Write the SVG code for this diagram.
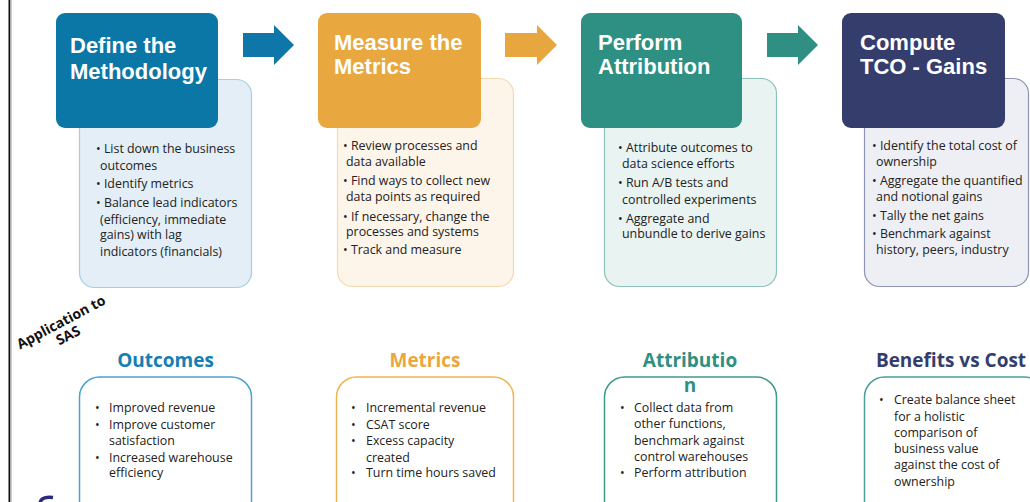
<svg xmlns="http://www.w3.org/2000/svg" width="1030" height="502" viewBox="0 0 1030 502">
<style>
.hd{font-family:"Liberation Sans",Arial,sans-serif;font-weight:bold;font-size:22px;fill:#ffffff}
.bl{font-family:"Open Sans","Noto Sans",sans-serif;font-size:12.4px;fill:#222222}
.bb{font-family:"Open Sans","Noto Sans",sans-serif;font-size:12.4px;fill:#222222}
.sh{font-family:"Open Sans","Noto Sans",sans-serif;font-weight:bold;font-size:19px;text-anchor:middle}
.app{font-family:"Open Sans","Noto Sans",sans-serif;font-weight:bold;font-size:14px;fill:#111111;text-anchor:middle}
</style>
<rect width="1030" height="502" fill="#ffffff"/>
<rect x="8.5" y="0" width="2" height="502" fill="#111111"/>
<rect x="10.5" y="0" width="1.5" height="502" fill="#cfcfcf"/>

<g id="connectors">
<polygon points="243,33 274,33 274,25 294,45 274,65 274,57 243,57" fill="#0e76a8"/>
<polygon points="505,33 537,33 537,25 557,45 537,65 537,57 505,57" fill="#e8a63e"/>
<polygon points="767,33 798,33 798,25 818,45 798,65 798,57 767,57" fill="#2e8f82"/>
</g>

<g id="step1">
<rect x="79.5" y="79.5" width="172" height="208" rx="15" fill="#e3eef6" stroke="#a6cfe4" stroke-width="1.2"/>
<rect x="56" y="13" width="162" height="115" rx="9" fill="#0b77a7"/>
<text class="hd"><tspan x="70" y="53">Define the</tspan><tspan x="70" y="79">Methodology</tspan></text>
<text class="bl"><tspan x="96" y="153">• List down the business</tspan><tspan x="100" y="170">outcomes</tspan><tspan x="96" y="188">• Identify metrics</tspan><tspan x="96" y="207">• Balance lead indicators</tspan><tspan x="100" y="224">(efficiency, immediate</tspan><tspan x="100" y="239">gains) with lag</tspan><tspan x="100" y="256">indicators (financials)</tspan></text>
</g>

<g id="step2">
<rect x="337.5" y="78.5" width="176" height="208" rx="15" fill="#fdf4ea" stroke="#f6d9b0" stroke-width="1.2"/>
<rect x="318" y="13" width="163" height="115" rx="9" fill="#e8a73f"/>
<text class="hd"><tspan x="334" y="50">Measure the</tspan><tspan x="334" y="74">Metrics</tspan></text>
<text class="bl"><tspan x="343" y="150">• Review processes and</tspan><tspan x="346" y="166">data available</tspan><tspan x="343" y="185">• Find ways to collect new</tspan><tspan x="346" y="201">data points as required</tspan><tspan x="343" y="221">• If necessary, change the</tspan><tspan x="346" y="236">processes and systems</tspan><tspan x="343" y="254">• Track and measure</tspan></text>
</g>

<g id="step3">
<rect x="604.5" y="78.5" width="172" height="208" rx="15" fill="#e9f3f1" stroke="#8cc2b9" stroke-width="1.2"/>
<rect x="581" y="13" width="161" height="115" rx="9" fill="#2e9083"/>
<text class="hd"><tspan x="598" y="50">Perform</tspan><tspan x="598" y="74">Attribution</tspan></text>
<text class="bl"><tspan x="618" y="152">• Attribute outcomes to</tspan><tspan x="622" y="168">data science efforts</tspan><tspan x="618" y="187">• Run A/B tests and</tspan><tspan x="622" y="204">controlled experiments</tspan><tspan x="618" y="223">• Aggregate and</tspan><tspan x="622" y="238">unbundle to derive gains</tspan></text>
</g>

<g id="step4">
<rect x="864.5" y="78.5" width="164" height="208" rx="15" fill="#eeeff4" stroke="#8f94b3" stroke-width="1.2"/>
<rect x="842" y="13" width="163" height="115" rx="9" fill="#353d6c"/>
<text class="hd"><tspan x="860" y="50">Compute</tspan><tspan x="860" y="74">TCO - Gains</tspan></text>
<text class="bl"><tspan x="872" y="150">• Identify the total cost of</tspan><tspan x="876" y="166">ownership</tspan><tspan x="872" y="185">• Aggregate the quantified</tspan><tspan x="876" y="201">and notional gains</tspan><tspan x="872" y="220">• Tally the net gains</tspan><tspan x="872" y="238">• Benchmark against</tspan><tspan x="876" y="254">history, peers, industry</tspan></text>
</g>

<g id="app-label" transform="translate(61,322) rotate(-28)">
<text class="app"><tspan x="0" y="5">Application to</tspan><tspan x="0" y="20">SAS</tspan></text>
</g>

<g id="outcomes">
<text class="sh" x="165.5" y="367" fill="#1480b2">Outcomes</text>
<rect x="79.5" y="377" width="172" height="150" rx="20" fill="#ffffff" stroke="#4aa3cf" stroke-width="1.5"/>
<text class="bb"><tspan x="95" y="412">•</tspan><tspan x="109" y="412">Improved revenue</tspan><tspan x="95" y="429">•</tspan><tspan x="109" y="429">Improve customer</tspan><tspan x="109" y="445">satisfaction</tspan><tspan x="95" y="462">•</tspan><tspan x="109" y="462">Increased warehouse</tspan><tspan x="109" y="477">efficiency</tspan></text>
</g>

<g id="metrics">
<text class="sh" x="425" y="367" fill="#eaa73e">Metrics</text>
<rect x="336.5" y="377" width="177" height="150" rx="20" fill="#ffffff" stroke="#f0b450" stroke-width="1.5"/>
<text class="bb"><tspan x="351" y="412">•</tspan><tspan x="366" y="412">Incremental revenue</tspan><tspan x="351" y="429">•</tspan><tspan x="366" y="429">CSAT score</tspan><tspan x="351" y="445">•</tspan><tspan x="366" y="445">Excess capacity</tspan><tspan x="366" y="462">created</tspan><tspan x="351" y="477">•</tspan><tspan x="366" y="477">Turn time hours saved</tspan></text>
</g>

<g id="attribution">
<rect x="604.5" y="377" width="172" height="150" rx="20" fill="#ffffff" stroke="#3f9a8e" stroke-width="1.5"/>
<text class="sh" fill="#2e9083"><tspan x="690" y="367">Attributio</tspan><tspan x="690" y="392">n</tspan></text>
<text class="bb"><tspan x="620" y="412">•</tspan><tspan x="634" y="412">Collect data from</tspan><tspan x="634" y="428">other functions,</tspan><tspan x="634" y="445">benchmark against</tspan><tspan x="634" y="461">control warehouses</tspan><tspan x="620" y="477">•</tspan><tspan x="634" y="477">Perform attribution</tspan></text>
</g>

<g id="benefits">
<text class="sh" x="951" y="367" fill="#353d6c">Benefits vs Cost</text>
<rect x="864.5" y="377" width="180" height="150" rx="20" fill="#ffffff" stroke="#4a9e98" stroke-width="1.5"/>
<text class="bb"><tspan x="879" y="404">•</tspan><tspan x="894" y="404">Create balance sheet</tspan><tspan x="894" y="421">for a holistic</tspan><tspan x="894" y="437">comparison of</tspan><tspan x="894" y="453">business value</tspan><tspan x="894" y="469">against the cost of</tspan><tspan x="894" y="486">ownership</tspan></text>
</g>

<path d="M53 497.5 Q41 496 40 503" fill="none" stroke="#2d2a7d" stroke-width="3.5"/>
</svg>
